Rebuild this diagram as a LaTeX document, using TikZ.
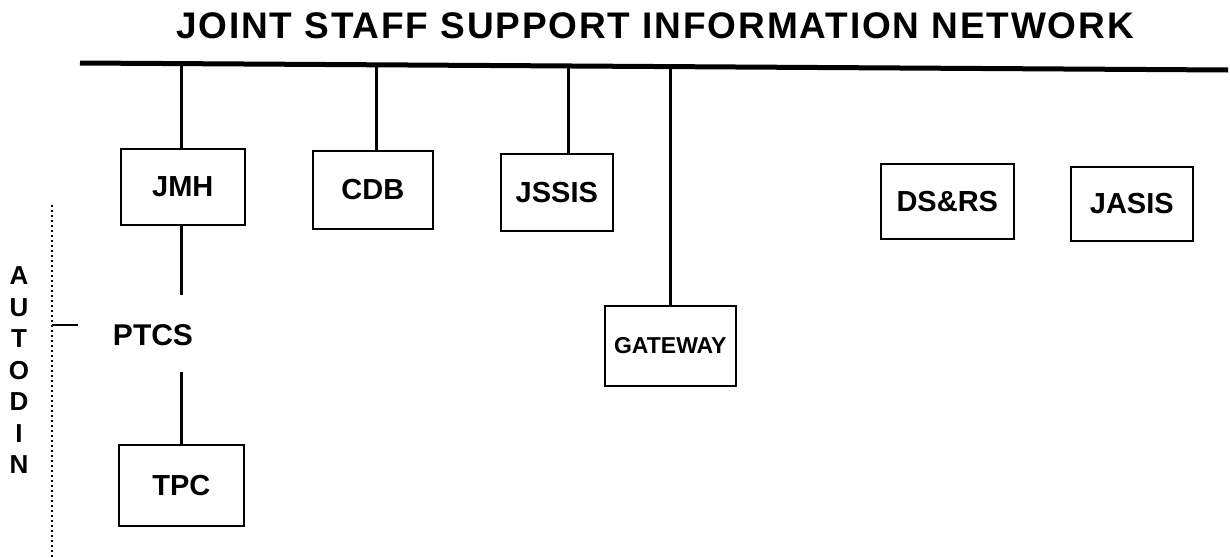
\documentclass[tikz,border=0pt]{standalone}
\usepackage{fontspec}
\setmainfont{Liberation Sans}
\begin{document}
\begin{tikzpicture}[x=1pt,y=-1pt,
  box/.style={draw,line width=1.6pt,inner sep=0pt,anchor=north west,font=\bfseries\fontsize{29}{31}\selectfont},
  link/.style={line width=3pt},
  bus/.style={line width=5pt}]
\useasboundingbox (0,0) rectangle (1230,557);
\node[anchor=base,font=\bfseries\fontsize{37}{40}\selectfont\addfontfeature{LetterSpace=5}] (title) at (655,38) {JOINT STAFF SUPPORT INFORMATION NETWORK};
\coordinate (busL) at (80,63);
\coordinate (busR) at (1228,70);
\draw[bus] (busL) -- (busR);
\node[box,minimum width=124pt,minimum height=76pt] (jmh) at (120,148) {JMH};
\node[box,minimum width=120pt,minimum height=78pt] (cdb) at (312,150) {CDB};
\node[box,minimum width=112pt,minimum height=77pt] (jssis) at (500,153) {JSSIS};
\node[box,minimum width=131pt,minimum height=80pt,font=\bfseries\fontsize{23}{25}\selectfont] (gw) at (604,305) {GATEWAY};
\node[box,minimum width=133pt,minimum height=75pt] (dsrs) at (880,163) {DS\&RS};
\node[box,minimum width=122pt,minimum height=74pt] (jasis) at (1070,166) {JASIS};
\node[box,minimum width=125pt,minimum height=81pt] (tpc) at (118,444) {TPC};
\node[font=\bfseries\fontsize{30}{32}\selectfont] (ptcs) at (153,335) {PTCS};
\coordinate (b1) at (181,64.1);
\coordinate (b2) at (376,65.3);
\coordinate (b3) at (568,66.5);
\coordinate (b4) at (670,67.1);
\draw[link] (b1) -- (b1 |- jmh.north);
\draw[link] (b2) -- (b2 |- cdb.north);
\draw[link] (b3) -- (b3 |- jssis.north);
\draw[link] (b4) -- (b4 |- gw.north);
\coordinate (p1) at (181,295);
\coordinate (p2) at (181,372);
\draw[link] (p1 |- jmh.south) -- (p1);
\draw[link] (p2) -- (p2 |- tpc.north);
\coordinate (dt) at (52,205);
\coordinate (db) at (52,557);
\draw[line width=1.5pt,dash pattern=on 1.5pt off 3.5pt] (dt) -- (db);
\coordinate (tk) at (52,325);
\coordinate (tk2) at (78,325);
\draw[line width=2pt] (tk) -- (tk2);
\foreach \l [count=\i] in {A,U,T,O,D,I,N}
  \node[font=\bfseries\fontsize{26}{28}\selectfont] (au\i) at (19,{276+(\i-1)*31.5}) {\l};
\end{tikzpicture}
\end{document}
